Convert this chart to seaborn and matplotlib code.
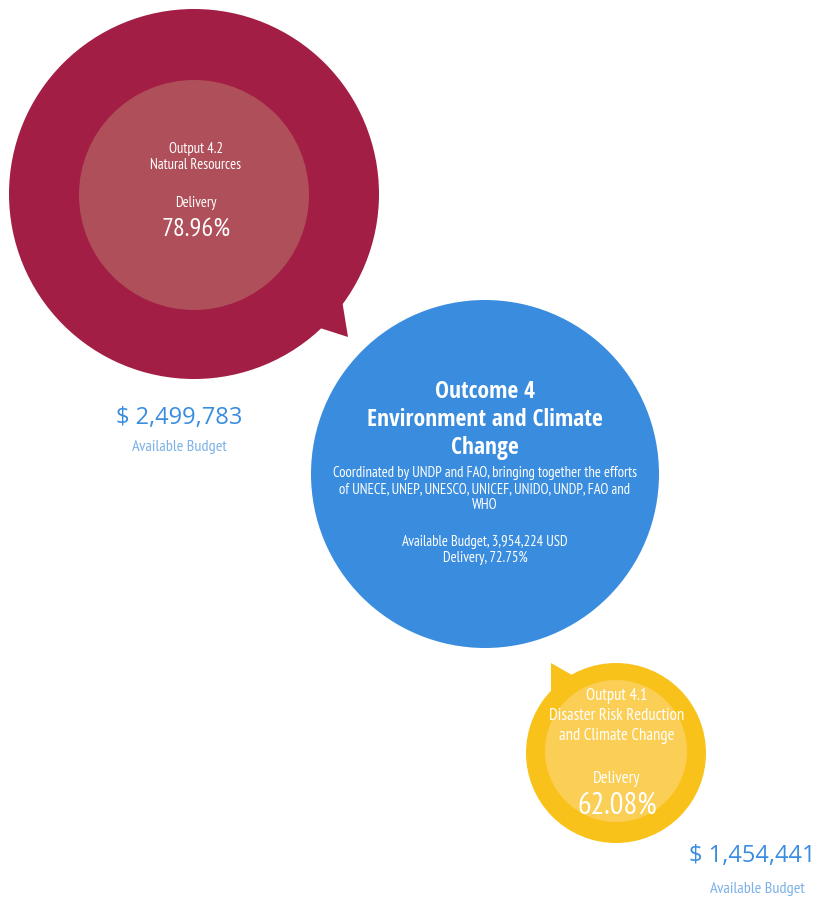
import matplotlib
matplotlib.use("Agg")
import matplotlib.pyplot as plt
from matplotlib.patches import Circle, Polygon
import seaborn as sns

# ---- data ----
names = ["Output 4.2\nNatural Resources", "Outcome 4", "Output 4.1\nDisaster Risk Reduction\nand Climate Change"]
budgets = [2499783, 3954224, 1454441]
delivery = [78.96, 72.75, 62.08]
outcome_title = "Outcome 4\nEnvironment and Climate\nChange"
outcome_desc = ("Coordinated by UNDP and FAO, bringing together the efforts\n"
                "of UNECE, UNEP, UNESCO, UNICEF, UNIDO, UNDP, FAO and\nWHO")

sns.set_theme(style="white")
plt.rcParams["font.family"] = ["PT Sans Narrow", "DejaVu Sans"]
REG = dict(family=["PT Sans Narrow", "DejaVu Sans"], fontweight="normal")
WIDE = dict(family=["Open Sans", "DejaVu Sans"], fontweight="normal")
BOLD = dict(family=["Open Sans Condensed", "DejaVu Sans"], fontweight="bold")

W, H = 814, 899
fig = plt.figure(figsize=(W / 100, H / 100), dpi=100)
ax = fig.add_axes([0, 0, 1, 1])
ax.set_xlim(0, W)
ax.set_ylim(H, 0)
ax.set_aspect("equal")
ax.axis("off")

RED, RED_IN = "#A31E44", "#AF4F5A"
BLUE = "#3A8DDE"
YEL, YEL_IN = "#F9C21B", "#FBCE55"
LBLUE = "#7DB1E8"

# red bubble
ax.add_patch(Polygon([(322, 300), (342, 300), (348, 337), (320, 328)], closed=True, color=RED, lw=0))
ax.add_patch(Circle((194, 194), 185, color=RED, lw=0))
ax.add_patch(Circle((194, 195), 115, color=RED_IN, lw=0))
ax.text(196, 157, names[0], ha="center", va="center", color="white", fontsize=10.5, linespacing=1.25, **REG)
ax.text(196, 203, "Delivery", ha="center", va="center", color="white", fontsize=10.5, **REG)
ax.text(196, 230, f"{delivery[0]:.2f}%", ha="center", va="center", color="white", fontsize=19, **REG)
ax.text(179, 418, f"$ {budgets[0]:,}", ha="center", va="center", color=BLUE, fontsize=17, **WIDE)
ax.text(179, 447, "Available Budget", ha="center", va="center", color=LBLUE, fontsize=11.7, **REG)

# blue bubble
ax.add_patch(Circle((485, 474), 174, color=BLUE, lw=0))
ax.text(485, 420, outcome_title, ha="center", va="center", color="white", fontsize=17,
        linespacing=1.22, **BOLD)
ax.text(485, 489, outcome_desc, ha="center", va="center", color="white", fontsize=10.5, linespacing=1.15, **REG)
ax.text(485, 550, f"Available Budget, {budgets[1]:,} USD\nDelivery, {delivery[1]:.2f}%",
        ha="center", va="center", color="white", fontsize=10.5, linespacing=1.15, **REG)

# yellow bubble
ax.add_patch(Polygon([(551, 663), (551, 700), (590, 690), (572, 675)], closed=True, color=YEL, lw=0))
ax.add_patch(Circle((616, 753), 90, color=YEL, lw=0))
ax.add_patch(Circle((616, 751), 71, color=YEL_IN, lw=0))
ax.text(617, 716, names[2], ha="center", va="center", color="white", fontsize=12, linespacing=1.3, **REG)
ax.text(617, 779, "Delivery", ha="center", va="center", color="white", fontsize=12, **REG)
ax.text(617, 806, f"{delivery[2]:.2f}%", ha="center", va="center", color="white", fontsize=22, **REG)
ax.text(752, 856, f"$ {budgets[2]:,}", ha="center", va="center", color=BLUE, fontsize=17, **WIDE)
ax.text(757, 889, "Available Budget", ha="center", va="center", color=LBLUE, fontsize=11.7, **REG)

fig.savefig("out.png", dpi=100, facecolor="white")
